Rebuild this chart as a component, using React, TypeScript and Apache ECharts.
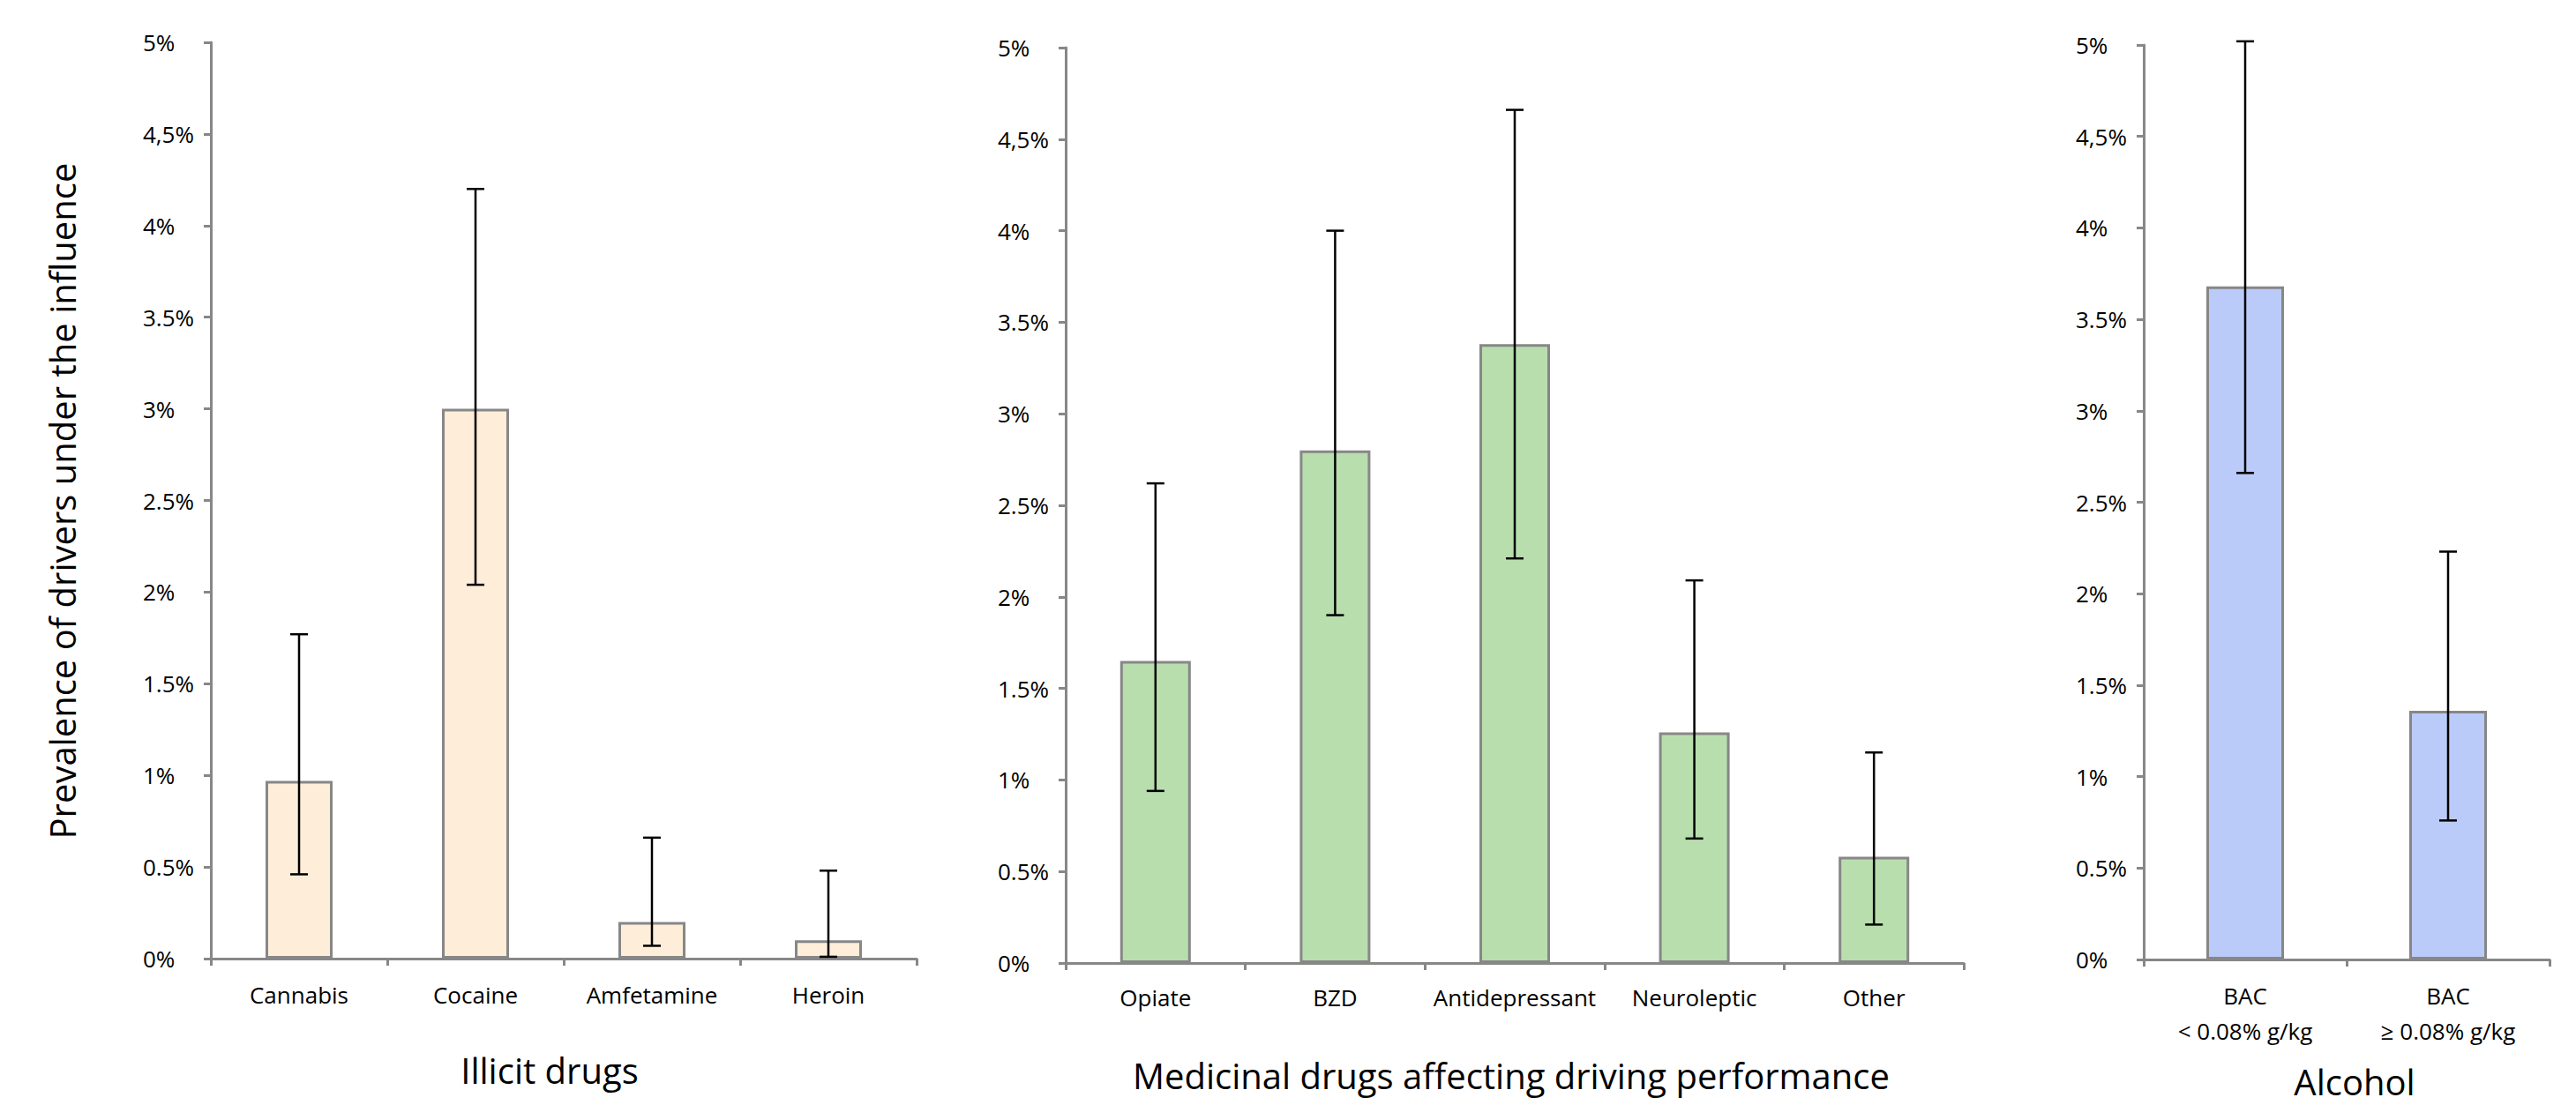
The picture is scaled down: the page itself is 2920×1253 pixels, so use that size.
import React, { useEffect, useRef } from "react";
import * as echarts from "echarts";

const illicitCategories = ["Cannabis", "Cocaine", "Amfetamine", "Heroin"];
const illicitValues = [0.97, 3.0, 0.2, 0.1];
const illicitLow = [0.46, 2.04, 0.07, 0.01];
const illicitHigh = [1.77, 4.2, 0.66, 0.48];

const medicinalCategories = ["Opiate", "BZD", "Antidepressant", "Neuroleptic", "Other"];
const medicinalValues = [1.65, 2.8, 3.38, 1.26, 0.58];
const medicinalLow = [0.94, 1.9, 2.21, 0.68, 0.21];
const medicinalHigh = [2.62, 4.0, 4.66, 2.09, 1.15];

const alcoholCategories = ["BAC\n< 0.08% g/kg", "BAC\n≥ 0.08% g/kg"];
const alcoholValues = [3.68, 1.36];
const alcoholLow = [2.66, 0.76];
const alcoholHigh = [5.02, 2.23];

const yTickLabels = ["0%", "0.5%", "1%", "1.5%", "2%", "2.5%", "3%", "3.5%", "4%", "4,5%", "5%"];

const panelTitles = ["Illicit drugs", "Medicinal drugs affecting driving performance", "Alcohol"];
const yAxisTitle = "Prevalence of drivers under the influence";

const FONT = "'Open Sans', sans-serif";
const AXIS_COLOR = "#878787";

export default function App() {
  const ref = useRef<HTMLDivElement>(null);
  useEffect(() => {
    if (!ref.current) return;
    const chart = echarts.init(ref.current, null, { renderer: "svg" });

    const grids = [
      { left: 239, top: 48, width: 800, height: 1039 },
      { left: 1208, top: 54, width: 1018, height: 1038 },
      { left: 2430, top: 51, width: 460, height: 1037 },
    ];
    const cats = [illicitCategories, medicinalCategories, alcoholCategories];
    const vals = [illicitValues, medicinalValues, alcoholValues];
    const lows = [illicitLow, medicinalLow, alcoholLow];
    const highs = [illicitHigh, medicinalHigh, alcoholHigh];
    const colors = ["rgb(253,237,217)", "rgb(184,222,174)", "rgb(187,203,249)"];
    const barWidths = [76, 80, 88];
    const labelMargins = [26, 24, 21];

    const renderErr = (params: any, api: any) => {
      const x = api.value(0);
      const lo = api.coord([x, api.value(1)]);
      const hi = api.coord([x, api.value(2)]);
      const cap = 10;
      const st = { stroke: "#000", lineWidth: 2.5 };
      return {
        type: "group",
        children: [
          { type: "line", shape: { x1: lo[0], y1: lo[1], x2: hi[0], y2: hi[1] }, style: st },
          { type: "line", shape: { x1: lo[0] - cap, y1: lo[1], x2: lo[0] + cap, y2: lo[1] }, style: st },
          { type: "line", shape: { x1: hi[0] - cap, y1: hi[1], x2: hi[0] + cap, y2: hi[1] }, style: st },
        ],
      };
    };

    const series: any[] = [];
    for (let i = 0; i < 3; i++) {
      series.push({
        type: "bar",
        xAxisIndex: i,
        yAxisIndex: i,
        data: vals[i],
        barWidth: barWidths[i],
        itemStyle: { color: colors[i], borderColor: AXIS_COLOR, borderWidth: 3 },
      });
      series.push({
        type: "custom",
        xAxisIndex: i,
        yAxisIndex: i,
        clip: false,
        z: 5,
        renderItem: renderErr,
        encode: { x: 0, y: [1, 2] },
        data: cats[i].map((_, j) => [j, lows[i][j], highs[i][j]]),
      });
    }

    const titleStyle = (text: string) => ({
      text,
      font: `40px ${FONT}`,
      fill: "#000",
      textAlign: "center",
      textVerticalAlign: "middle",
    });

    const option: any = {
      animation: false,
      grid: grids.map((g) => ({ ...g, containLabel: false })),
      xAxis: grids.map((_, i) => ({
        type: "category",
        gridIndex: i,
        data: cats[i],
        axisLine: { lineStyle: { color: AXIS_COLOR, width: 3 } },
        axisTick: { show: true, length: 8, lineStyle: { color: AXIS_COLOR, width: 3 } },
        axisLabel: {
          color: "#000",
          fontFamily: FONT,
          fontSize: 26,
          lineHeight: i === 2 ? 40 : 30,
          margin: labelMargins[i],
          interval: 0,
        },
      })),
      yAxis: grids.map((_, i) => ({
        type: "value",
        gridIndex: i,
        min: 0,
        max: 5,
        interval: 0.5,
        splitLine: { show: false },
        axisLine: { show: true, lineStyle: { color: AXIS_COLOR, width: 3 } },
        axisTick: { show: true, length: 8, lineStyle: { color: AXIS_COLOR, width: 3 } },
        axisLabel: {
          color: "#000",
          fontFamily: FONT,
          fontSize: 26,
          align: "left",
          margin: 77,
          formatter: (v: number) => yTickLabels[Math.round(v * 2)],
        },
      })),
      series,
      graphic: [
        { type: "text", x: 70, y: 568, rotation: Math.PI / 2, style: titleStyle(yAxisTitle) },
        { type: "text", x: 623, y: 1213, style: titleStyle(panelTitles[0]) },
        { type: "text", x: 1713, y: 1219, style: titleStyle(panelTitles[1]) },
        { type: "text", x: 2669, y: 1226, style: titleStyle(panelTitles[2]) },
      ],
    };
    chart.setOption(option);
    return () => chart.dispose();
  }, []);
  return (
    <div
      ref={ref}
      style={{ position: "fixed", left: 0, top: 0, width: 2920, height: 1253, background: "#fff" }}
    />
  );
}
